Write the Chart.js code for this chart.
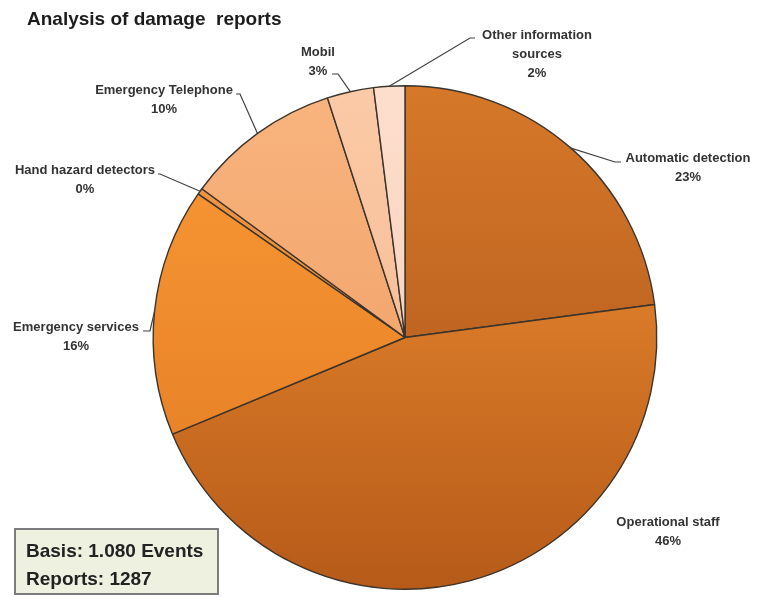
<!DOCTYPE html>
<html>
<head>
<meta charset="utf-8">
<script src="https://cdn.jsdelivr.net/npm/chart.js@4.4.1/dist/chart.umd.min.js"></script>
<style>
  html, body { margin: 0; padding: 0; background: #ffffff; }
  #wrap { position: relative; width: 759px; height: 597px; }
</style>
</head>
<body>
<div id="wrap"><canvas id="damageChart" width="759" height="597"></canvas></div>
<script>
// datos del grafico
var sources = ["Automatic detection", "Operational staff", "Emergency services", "Hand hazard detectors", "Emergency Telephone", "Mobil", "Other information sources"];
var shares = [23, 46, 16, 0.4, 10, 3, 2];
var basisLines = ["Basis: 1.080 Events", "Reports: 1287"];

// colores (arriba / abajo del pie)
var topColors = ["#d67829", "#f49434", "#fb9a36", "#f29a48", "#f9b47e", "#fbcaa6", "#fddecd"];
var bottomColors = ["#a9531a", "#b65a19", "#e07a22", "#e07d2a", "#ec9a60", "#f2b48c", "#f6cab4"];

// donde va cada etiqueta (centro del texto) y el quiebre de la linea guia
var labelSpots = [
  { x: 688, y: 158, lines: ["Automatic detection"], knee: [615, 162], end: [621, 162] },
  { x: 668, y: 522, lines: ["Operational staff"], knee: null },
  { x: 76, y: 327, lines: ["Emergency services"], knee: [150, 331], end: [143, 331] },
  { x: 85, y: 170, lines: ["Hand hazard detectors"], knee: [160, 174], end: [158, 174] },
  { x: 164, y: 90, lines: ["Emergency Telephone"], knee: [240, 94], end: [236, 94] },
  { x: 318, y: 52, lines: ["Mobil"], knee: [338, 74], end: [332, 74] },
  { x: 537, y: 35, lines: ["Other information", "sources"], knee: [470, 38], end: [475, 38] }
];

function sliceGradient(context) {
  var i = context.dataIndex;
  var chart = context.chart;
  var area = chart.chartArea;
  if (!area) return topColors[i];
  var g = chart.ctx.createLinearGradient(0, area.top, 0, area.bottom);
  g.addColorStop(0, topColors[i]);
  g.addColorStop(1, bottomColors[i]);
  return g;
}

var total = shares.reduce(function (a, b) { return a + b; }, 0);

var labelPlugin = {
  id: "leaderLabels",
  afterDraw: function (chart) {
    var ctx = chart.ctx;
    var arcs = chart.getDatasetMeta(0).data;
    ctx.save();

    // etiquetas con lineas guia
    ctx.font = "bold 13px 'Liberation Sans', Arial, sans-serif";
    ctx.textAlign = "center";
    ctx.textBaseline = "middle";
    for (var i = 0; i < arcs.length; i++) {
      var a = arcs[i];
      var spot = labelSpots[i];
      var mid = (a.startAngle + a.endAngle) / 2;
      var ex = a.x + Math.cos(mid) * a.outerRadius;
      var ey = a.y + Math.sin(mid) * a.outerRadius;
      if (spot.knee) {
        ctx.strokeStyle = "#404040";
        ctx.lineWidth = 1.2;
        ctx.beginPath();
        ctx.moveTo(ex, ey);
        ctx.lineTo(spot.knee[0], spot.knee[1]);
        ctx.lineTo(spot.end[0], spot.end[1]);
        ctx.stroke();
      }
      ctx.fillStyle = "#333333";
      var y = spot.y;
      for (var k = 0; k < spot.lines.length; k++) {
        ctx.fillText(spot.lines[k], spot.x, y);
        y += 19;
      }
      ctx.fillText(Math.round(shares[i] * 100 / total) + "%", spot.x, y);
    }

    // titulo
    ctx.textAlign = "left";
    ctx.textBaseline = "alphabetic";
    ctx.fillStyle = "#1c1c1c";
    ctx.font = "bold 19px 'Liberation Sans', Arial, sans-serif";
    ctx.fillText("Analysis of damage  reports", 27, 25);

    // caja de base
    ctx.fillStyle = "#eef0e0";
    ctx.fillRect(15, 529, 203, 65);
    ctx.strokeStyle = "#7c7c7c";
    ctx.lineWidth = 2;
    ctx.strokeRect(15, 529, 203, 65);
    ctx.fillStyle = "#222222";
    ctx.font = "bold 19px 'Liberation Sans', Arial, sans-serif";
    ctx.textBaseline = "middle";
    ctx.fillText(basisLines[0], 26, 552);
    ctx.fillText(basisLines[1], 26, 580);

    ctx.restore();
  }
};

var damageCanvas = document.getElementById("damageChart");
var pieChart = new Chart(damageCanvas, {
  type: "pie",
  data: {
    labels: sources,
    datasets: [{
      data: shares,
      backgroundColor: sliceGradient,
      borderColor: "#3b342c",
      borderWidth: 1.4
    }]
  },
  options: {
    responsive: false,
    animation: false,
    layout: { padding: { top: 85, bottom: 7, left: 152, right: 101 } },
    plugins: {
      legend: { display: false },
      title: { display: false },
      tooltip: { enabled: false }
    }
  },
  plugins: [labelPlugin]
});
</script>
</body>
</html>
